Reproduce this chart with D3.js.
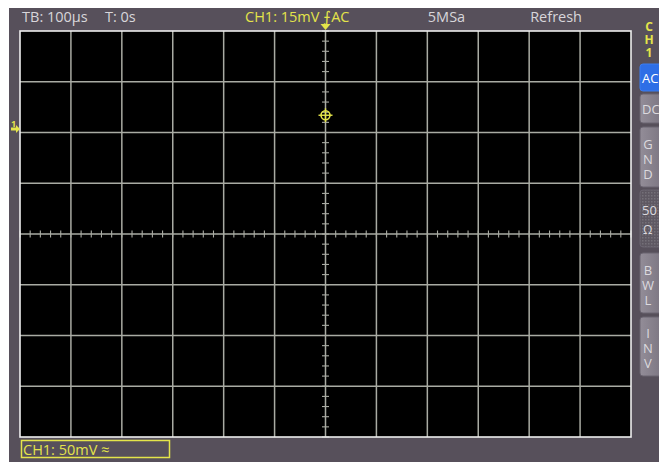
<!DOCTYPE html>
<html><head><meta charset="utf-8">
<script src="https://cdn.jsdelivr.net/npm/d3@7"></script>
<style>html,body{margin:0;padding:0;background:#fff;overflow:hidden}
.vert{writing-mode:vertical-rl;text-orientation:upright}</style>
</head><body>
<script>
// ---- data ----
const xDivs = d3.range(-6, 7);            // 12 horizontal divisions
const yDivs = d3.range(-4, 5);            // 8 vertical divisions
const minorTicks = d3.range(-6, 6.01, 0.2);
const minorTicksY = d3.range(-4, 4.01, 0.2);
const headerLabels = [
  {t: "TB: 100µs", x: -5.96, c: "w"},
  {t: "T: 0s", x: -4.33, c: "w"},
  {t: "CH1: 15mV ⨍AC", x: -1.58, c: "y"},
  {t: "5MSa", x: 2.01, c: "w"},
  {t: "Refresh", x: 4.02, c: "w"}
];
const buttons = [
  {label: "AC", y0: 64, y1: 91, active: true},
  {label: "DC", y0: 94, y1: 123},
  {label: "GND", y0: 127, y1: 187, vertical: true},
  {label: "50Ω", y0: 190, y1: 247, dotted: true},
  {label: "BWL", y0: 253, y1: 313, vertical: true},
  {label: "INV", y0: 317, y1: 376, vertical: true}
];
const channelLabel = "CH1";
const cursorPoint = {t: 0, v: 2.34};
const offsetMarker = 2.07;
const footerLabel = "CH1: 50mV ≈";

// ---- drawing ----
const W = 659, H = 462;
const svg = d3.select("body").append("svg").attr("width", W).attr("height", H);
const font = "'Open Sans', Lato, sans-serif";
const yellow = "#e4e44a", grey = "#d8d6da", gridC = "#a9aba3";

svg.append("rect").attr("width", W).attr("height", H).attr("fill", "#fff");
svg.append("rect").attr("x", 9).attr("y", 8).attr("width", W - 9).attr("height", H - 8).attr("fill", "#57505b");

const x = d3.scaleLinear().domain([-6, 6]).range([20, 631]);
const y = d3.scaleLinear().domain([-4, 4]).range([437, 31]);

svg.append("rect").attr("x", x(-6)).attr("y", y(4)).attr("width", x(6) - x(-6)).attr("height", y(-4) - y(4)).attr("fill", "#000");

const g = svg.append("g");
g.selectAll(".vl").data(xDivs.slice(1, -1)).join("line")
  .attr("x1", d => x(d)).attr("x2", d => x(d)).attr("y1", y(4)).attr("y2", y(-4))
  .attr("stroke", gridC).attr("stroke-width", 1.5);
g.selectAll(".hl").data(yDivs.slice(1, -1)).join("line")
  .attr("y1", d => y(d)).attr("y2", d => y(d)).attr("x1", x(-6)).attr("x2", x(6))
  .attr("stroke", gridC).attr("stroke-width", 1.5);
// minor ticks on center axes
g.selectAll(".mt").data(minorTicks).join("line")
  .attr("x1", d => x(d)).attr("x2", d => x(d)).attr("y1", y(0) - 3.5).attr("y2", y(0) + 3.5)
  .attr("stroke", gridC).attr("stroke-width", 1.1);
g.selectAll(".mty").data(minorTicksY).join("line")
  .attr("y1", d => y(d)).attr("y2", d => y(d)).attr("x1", x(0) - 3.5).attr("x2", x(0) + 3.5)
  .attr("stroke", gridC).attr("stroke-width", 1.1);
// border
svg.append("rect").attr("x", x(-6)).attr("y", y(4)).attr("width", x(6) - x(-6)).attr("height", y(-4) - y(4))
  .attr("fill", "none").attr("stroke", "#eeeeee").attr("stroke-width", 1.6);

// header
svg.selectAll(".hd").data(headerLabels).join("text")
  .attr("x", d => x(d.x)).attr("y", 22).text(d => d.t)
  .attr("fill", d => d.c === "y" ? yellow : grey)
  .attr("font-family", font).attr("font-size", 14.5);

// trigger marker on top
svg.append("path").attr("d", `M${x(0)-5},${y(4)-7} L${x(0)+5},${y(4)-7} L${x(0)},${y(4)-1} Z`).attr("fill", yellow);

// offset marker left
const oy = y(offsetMarker);
svg.append("path").attr("d", `M11,${oy-1.5} L16,${oy-1.5} L16,${oy-4} L20,${oy} L16,${oy+4} L16,${oy+1.5} L11,${oy+1.5} Z`).attr("fill", yellow);
svg.append("text").attr("x", 11).attr("y", oy - 2).text("1").attr("fill", yellow)
  .attr("font-family", font).attr("font-size", 9).attr("font-weight", "bold");

// cursor crosshair
const cx = x(cursorPoint.t), cy = y(cursorPoint.v);
svg.append("circle").attr("cx", cx).attr("cy", cy).attr("r", 4.5).attr("fill", "none").attr("stroke", yellow).attr("stroke-width", 1.6);
svg.append("line").attr("x1", cx - 7).attr("x2", cx + 7).attr("y1", cy).attr("y2", cy).attr("stroke", yellow).attr("stroke-width", 1.4);
svg.append("line").attr("y1", cy - 7).attr("y2", cy + 7).attr("x1", cx).attr("x2", cx).attr("stroke", yellow).attr("stroke-width", 1.4);

// right channel label (vertical)
svg.append("text").attr("class", "vert").attr("x", 649).attr("y", 37)
  .attr("text-anchor", "middle").attr("letter-spacing", -4).text(channelLabel)
  .attr("fill", yellow).attr("font-family", font).attr("font-size", 12).attr("font-weight", "bold");

// buttons
const defs = svg.append("defs");
const grad = defs.append("linearGradient").attr("id", "bg").attr("x1", 0).attr("x2", 1);
grad.append("stop").attr("offset", 0).attr("stop-color", "#938d98");
grad.append("stop").attr("offset", 1).attr("stop-color", "#7a7480");
const pat = defs.append("pattern").attr("id", "dots").attr("width", 3).attr("height", 3).attr("patternUnits", "userSpaceOnUse");
pat.append("rect").attr("width", 3).attr("height", 3).attr("fill", "#5e5862");
pat.append("rect").attr("width", 1.5).attr("height", 1.5).attr("fill", "#747078");

const bg = svg.selectAll(".btn").data(buttons).join("g");
bg.append("rect").attr("x", 640).attr("y", d => d.y0).attr("width", 24).attr("height", d => d.y1 - d.y0).attr("rx", 3)
  .attr("fill", d => d.active ? "#2e6ee6" : d.dotted ? "url(#dots)" : "url(#bg)")
  .attr("stroke", d => d.active ? "#3b7cf0" : "#6a6470").attr("stroke-width", 1);
bg.each(function(d) {
  const sel = d3.select(this);
  const mid = (d.y0 + d.y1) / 2;
  const col = d.active ? "#ffffff" : "#dcdadf";
  if (d.vertical) {
    sel.append("text").attr("class", "vert").attr("x", 648).attr("y", mid)
      .attr("text-anchor", "middle").attr("letter-spacing", -3).text(d.label)
      .attr("fill", col).attr("font-family", font).attr("font-size", 13);
  } else if (d.dotted) {
    sel.append("text").attr("x", 642).attr("y", mid - 4).text(d.label.slice(0, 2))
      .attr("fill", col).attr("font-family", font).attr("font-size", 13);
    sel.append("text").attr("x", 643).attr("y", mid + 15).text(d.label.slice(2))
      .attr("fill", col).attr("font-family", font).attr("font-size", 12);
  } else {
    sel.append("text").attr("x", 642).attr("y", mid + 5).text(d.label)
      .attr("fill", col).attr("font-family", font).attr("font-size", 13);
  }
});

// footer
svg.append("rect").attr("x", 21.5).attr("y", 440.5).attr("width", 148).attr("height", 17)
  .attr("fill", "none").attr("stroke", yellow).attr("stroke-width", 1.5);
svg.append("text").attr("x", 23).attr("y", 454.5).text(footerLabel).attr("fill", yellow)
  .attr("font-family", font).attr("font-size", 14.5);
</script>
</body></html>
